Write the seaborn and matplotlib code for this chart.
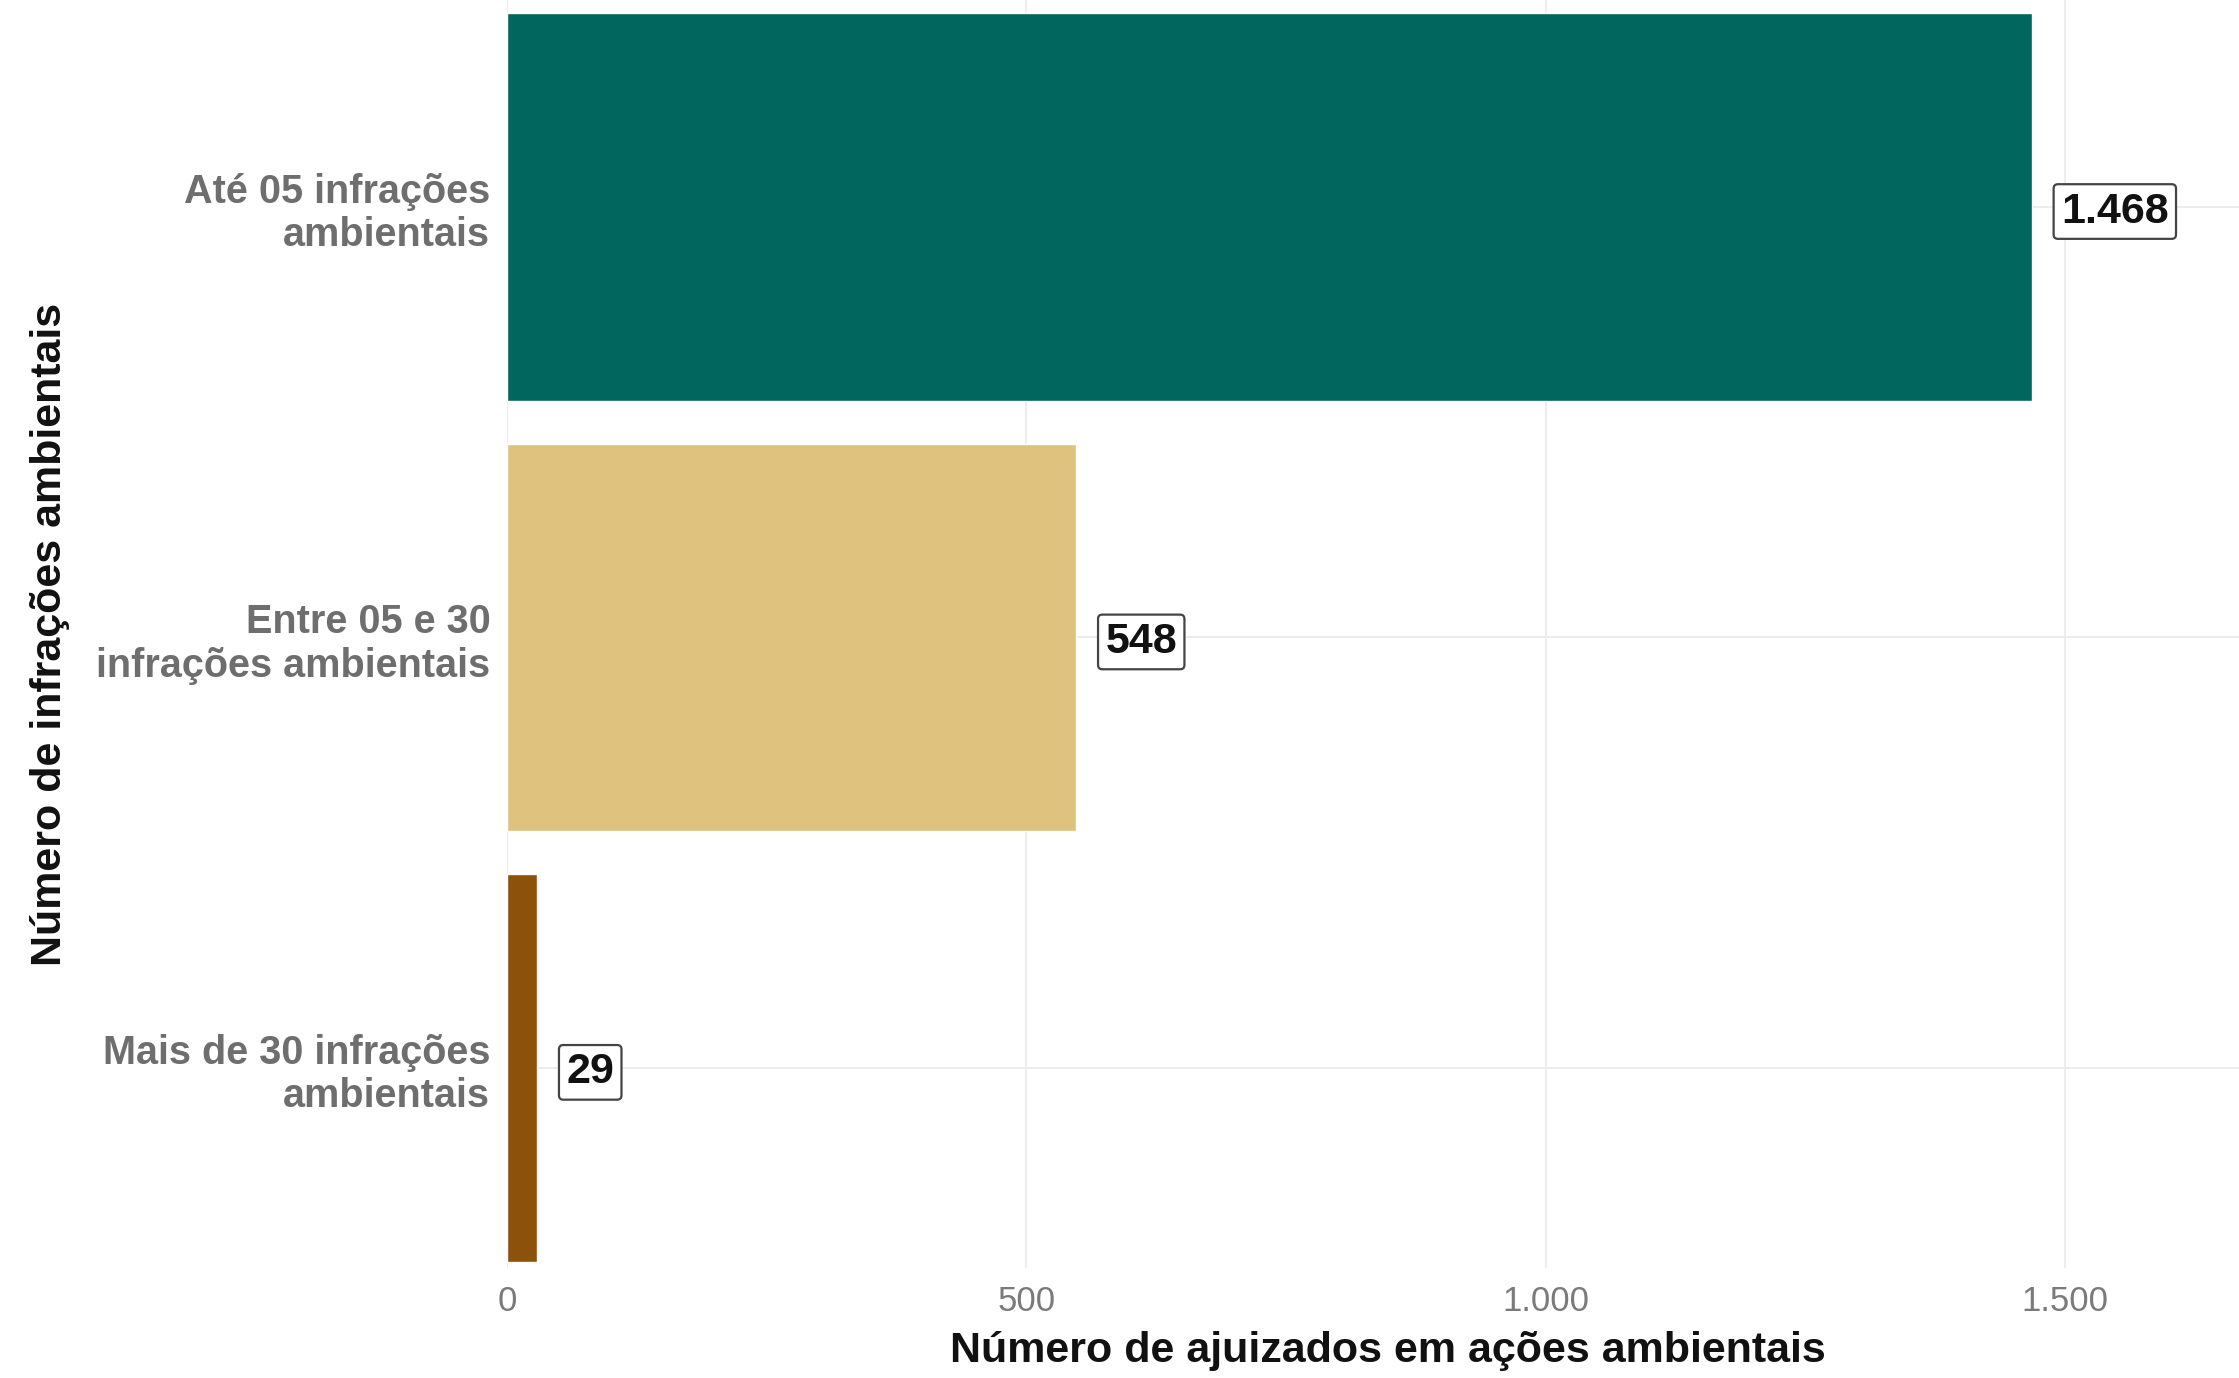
import matplotlib
matplotlib.use("Agg")
import matplotlib.pyplot as plt
import seaborn as sns
import pandas as pd

# Dados
categorias = [
    "Até 05 infrações\nambientais",
    "Entre 05 e 30\ninfrações ambientais",
    "Mais de 30 infrações\nambientais",
]
ajuizados = [1468, 548, 29]
cores = ["#01665e", "#dfc27d", "#8c510a"]
ticks_x = [0, 500, 1000, 1500]
rotulos_x = ["0", "500", "1.000", "1.500"]

df = pd.DataFrame({"faixa": categorias, "n": ajuizados})

sns.set_theme(style="whitegrid")
plt.rcParams["font.family"] = ["Liberation Sans", "DejaVu Sans"]

fig = plt.figure(figsize=(22.39, 13.78), dpi=100)
ax = fig.add_axes([507 / 2239, 1 - 1268 / 1378, 1732 / 2239, 1268 / 1378])

sns.barplot(
    data=df, x="n", y="faixa", hue="faixa", palette=cores,
    order=categorias, hue_order=categorias, width=0.9,
    dodge=False, legend=False, saturation=1, ax=ax,
)

ax.set_xlim(0, 1667.5)
ax.set_ylim(2.465, -0.481)

ax.set_xticks(ticks_x)
ax.set_xticklabels(rotulos_x, color="#7a7a7a", fontsize=25)
ax.set_yticks(range(len(categorias)))
ax.set_yticklabels(categorias, color="#6e6e6e", fontsize=28.5,
                   fontweight="bold", linespacing=1.17)
ax.tick_params(axis="x", length=0, pad=12)
ax.tick_params(axis="y", length=0, pad=12)

ax.grid(True, color="#ececec", linewidth=1.3)
ax.set_axisbelow(True)
for s in ax.spines.values():
    s.set_visible(False)
ax.set_facecolor("white")

ax.set_xlabel("Número de ajuizados em ações ambientais", fontsize=31,
              fontweight="bold", color="#111111")
ax.xaxis.set_label_coords(0.5087, -0.0655)
ax.xaxis.label.set_va("center")
ax.set_ylabel("Número de infrações ambientais", fontsize=31,
              fontweight="bold", color="#111111")
ax.yaxis.set_label_coords(-0.2639, 0.5)
ax.yaxis.label.set_va("center")

# Rótulos de valor com caixa
for cont in ax.containers:
    vals = cont.datavalues
    labels = [f"{int(v):,}".replace(",", ".") if v == v else "" for v in vals]
    anns = ax.bar_label(
        cont, labels=labels, padding=21, fontsize=31, fontweight="bold",
        color="#111111",
        bbox=dict(boxstyle="round,pad=0.17,rounding_size=0.1",
                  facecolor="white", edgecolor="#444444", linewidth=1.6),
    )
    for a in anns:
        a.set_va("center_baseline")

fig.savefig("out.png", dpi=100, facecolor="white")
